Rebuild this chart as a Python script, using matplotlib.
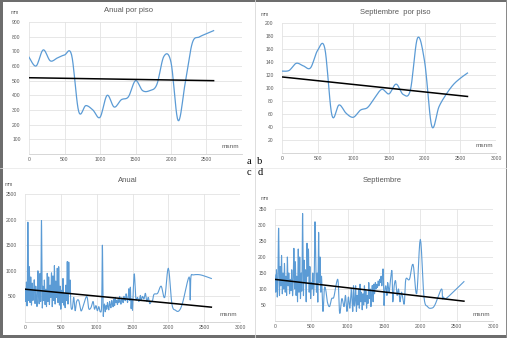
import numpy as np
import matplotlib
matplotlib.use("Agg")
import matplotlib.pyplot as plt
from matplotlib.lines import Line2D
from matplotlib.patches import Rectangle

# altitud de los pisos (msnm)
piso_alt = [0, 100, 200, 300, 400, 500, 600, 700, 800, 900, 1000, 1100, 1200,
            1300, 1400, 1500, 1600, 1700, 1800, 1900, 2000, 2100, 2200, 2300,
            2400, 2500, 2600]
anual_piso = [660, 600, 710, 635, 655, 675, 675, 290, 330, 300, 250, 400, 320,
              370, 390, 500, 432, 432, 473, 666, 625, 228, 484, 757, 798, 820,
              841]
sept_piso = [126, 127, 138, 134, 131, 158, 161, 58, 74, 61, 55, 66, 70,
             85, 98, 91, 106, 90, 97, 177, 140, 41, 71, 90, 105, 115, 123]

# altitud de las estaciones (msnm)
est_alt = (list(range(0, 650, 10))
           + [660, 680, 700, 720, 750, 780, 810, 850, 870, 890, 920, 950, 970,
              990, 1010, 1030, 1050, 1070, 1080, 1090]
           + list(range(1100, 1520, 10))
           + [1525, 1540, 1550, 1570, 1590, 1610, 1620, 1640, 1660, 1680, 1700,
              1720, 1740, 1760, 1780, 1800, 1850, 1900, 1950, 2000, 2050, 2100,
              2150, 2200, 2290, 2305, 2315, 2350, 2450, 2600])

anual_est = [650, 400, 780, 350, 1950, 420, 1080, 380, 880, 330,
             760, 420, 620, 820, 360, 700, 440, 330, 1000, 500,
             380, 950, 420, 1980, 320, 700, 420, 820, 340, 640,
             300, 950, 400, 880, 340, 720, 480, 960, 300, 900,
             420, 1100, 350, 800, 480, 1050, 380, 1080, 330, 700,
             250, 620, 380, 850, 330, 560, 280, 720, 420, 1180,
             350, 1170, 550, 820, 330,
             260, 480, 220, 400, 420, 220, 300, 480, 470, 260,
             280, 400, 250, 320, 220, 300, 200, 350, 1500, 180,
             280, 350, 200, 320, 250, 380, 300, 240, 400, 330,
             280, 420, 350, 300, 450, 320, 480, 380, 420, 340,
             450, 380, 500, 400, 350, 470, 420, 380, 500, 450,
             420, 550, 480, 380, 480, 650, 420, 680, 260, 450,
             230, 600,
             940, 600, 430, 480, 400, 520, 420, 500, 450, 560,
             400, 480, 360, 400, 420, 540, 560, 700, 480, 1050,
             350, 230, 220, 380, 880, 430, 880, 920, 920, 850]

sept_est = [144, 90, 160, 75, 130, 290, 80, 170, 110, 205,
            85, 150, 100, 180, 90, 140, 80, 200, 110, 150,
            85, 130, 95, 160, 80, 120, 227, 100, 185, 80,
            140, 60, 225, 90, 200, 70, 150, 100, 336, 80,
            190, 120, 160, 60, 243, 140, 225, 90, 170, 70,
            120, 100, 150, 80, 130, 310, 200, 90, 150, 60,
            277, 120, 200, 90, 140,
            30, 102, 95, 60, 45, 70, 75, 123, 120, 24,
            70, 45, 80, 30, 75, 40, 100, 30, 110, 50,
            60, 110, 30, 80, 50, 100, 40, 115, 60, 90,
            35, 85, 50, 110, 60, 95, 40, 80, 55, 120,
            70, 100, 45, 90, 110, 60, 115, 85, 120, 100,
            115, 105, 125, 110, 130, 120, 140, 110, 150, 155,
            50, 90,
            110, 80, 120, 90, 130, 155, 60, 110, 125, 80,
            100, 60, 90, 70, 55, 130, 130, 177, 85, 255,
            75, 45, 40, 50, 100, 70, 75, 70, 90, 123]

# lineas de tendencia (inicio y fin)
trend_x = [0, 2600]
trend_a = [520, 500]
trend_b = [117, 87]
trend_c = [640, 290]
trend_d = [130, 62]

W, H = 507, 338
BLUE = "#5b9bd5"
GREY = "#595959"


def smooth(xs, ys, n=10):
    """Catmull-Rom, como la linea suavizada de Excel."""
    pts = np.column_stack([xs, ys]).astype(float)
    p = np.vstack([pts[0], pts, pts[-1]])
    t = np.linspace(0, 1, n, endpoint=False)[:, None]
    out = []
    for i in range(1, len(p) - 2):
        p0, p1, p2, p3 = p[i - 1], p[i], p[i + 1], p[i + 2]
        seg = 0.5 * (2 * p1 + (-p0 + p2) * t
                     + (2 * p0 - 5 * p1 + 4 * p2 - p3) * t ** 2
                     + (-p0 + 3 * p1 - 3 * p2 + p3) * t ** 3)
        out.append(seg)
    out.append(pts[-1:])
    arr = np.vstack(out)
    return arr[:, 0], arr[:, 1]


def px_axes(fig, l, t, r, b):
    return fig.add_axes([l / W, 1 - b / H, (r - l) / W, (b - t) / H])


def ftxt(fig, x, y, s, **kw):
    fig.text(x / W, 1 - y / H, s, ha="center", va="center", **kw)


def style(ax, ymax, ystep, show3000=True):
    ax.set_xlim(0, 3000)
    ax.set_ylim(0, ymax)
    ax.set_xticks(np.arange(0, 3001, 500))
    labels = [str(v) for v in range(0, 3001, 500)]
    if not show3000:
        labels[-1] = ""
    ax.set_xticklabels(labels)
    ax.set_yticks(np.arange(ystep, ymax + 1, ystep))
    for s in ax.spines.values():
        s.set_visible(False)
    ax.spines["bottom"].set_visible(True)
    ax.spines["bottom"].set_color("#d0d0d0")
    ax.spines["bottom"].set_linewidth(0.6)
    ax.grid(color="#e3e3e3", lw=0.6)
    ax.set_axisbelow(True)
    ax.tick_params(length=0, labelsize=3.6, colors=GREY)
    ax.tick_params(axis="y", pad=6)
    ax.tick_params(axis="x", pad=2.5)
    for lab in ax.get_xticklabels() + ax.get_yticklabels():
        lab.set_family("Liberation Sans")
    ax.text(0.945, 0.06, "msnm", transform=ax.transAxes, ha="center",
            va="center", fontsize=4.6, color=GREY, family="Liberation Sans")


fig = plt.figure(figsize=(W / 100, H / 100), dpi=100)
fig.patch.set_facecolor("white")

# a
ax = px_axes(fig, 29, 22, 242, 154)
style(ax, 900, 100, show3000=False)
sx, sy = smooth(piso_alt, anual_piso)
ax.plot(sx, sy, color=BLUE, lw=0.9)
ax.plot(trend_x, trend_a, color="black", lw=1.1)

# b
ax = px_axes(fig, 282, 23, 496, 153)
style(ax, 200, 20)
sx, sy = smooth(piso_alt, sept_piso)
ax.plot(sx, sy, color=BLUE, lw=0.9)
ax.plot(trend_x, trend_b, color="black", lw=1.1)

# c
ax = px_axes(fig, 25, 194, 240, 322)
style(ax, 2500, 500)
sx, sy = smooth(est_alt, anual_est, n=6)
ax.plot(sx, sy, color=BLUE, lw=0.8)
ax.plot(trend_x, trend_c, color="black", lw=1.1)

# d
ax = px_axes(fig, 275, 209, 493, 321)
style(ax, 350, 50)
sx, sy = smooth(est_alt, sept_est, n=6)
ax.plot(sx, sy, color=BLUE, lw=0.8)
ax.plot(trend_x, trend_d, color="black", lw=1.1)

# titulos y unidades
tkw = dict(fontsize=5.5, color=GREY, family="Liberation Sans")
ftxt(fig, 128, 11, "Anual por piso", **tkw)
ftxt(fig, 395, 12, "Septiembre  por piso", **tkw)
ftxt(fig, 128, 180, "Anual", **tkw)
ftxt(fig, 382, 180, "Septiembre", **tkw)
ukw = dict(fontsize=3.6, color=GREY, family="Liberation Sans")
ftxt(fig, 15, 13, "mm", **ukw)
ftxt(fig, 265, 15, "mm", **ukw)
ftxt(fig, 9, 184, "mm", **ukw)
ftxt(fig, 265, 198, "mm", **ukw)

lkw = dict(fontsize=7.5, color="black", family="Liberation Serif")
ftxt(fig, 249, 161, "a", **lkw)
ftxt(fig, 260, 161, "b", **lkw)
ftxt(fig, 249, 173, "c", **lkw)
ftxt(fig, 260, 173, "d", **lkw)

# separadores y marco
fig.add_artist(Line2D([254.5 / W, 254.5 / W], [0, 1], color="#d8d8d8",
                      lw=0.6))
fig.add_artist(Line2D([0, 1], [1 - 168 / H, 1 - 168 / H], color="#e6e6e6",
                      lw=0.5))
fig.add_artist(Rectangle((0, 0), 2.5 / W, 1, color="#6d6d6d", lw=0))
fig.add_artist(Rectangle((0, 0), 1, 3 / H, color="#6d6d6d", lw=0))
fig.add_artist(Rectangle((0, 1 - 1.5 / H), 1, 1.5 / H, color="#6d6d6d",
                         lw=0))
fig.add_artist(Rectangle((1 - 1.5 / W, 0), 1.5 / W, 1, color="#8a8a8a",
                         lw=0))

fig.savefig("out.png", dpi=100)
